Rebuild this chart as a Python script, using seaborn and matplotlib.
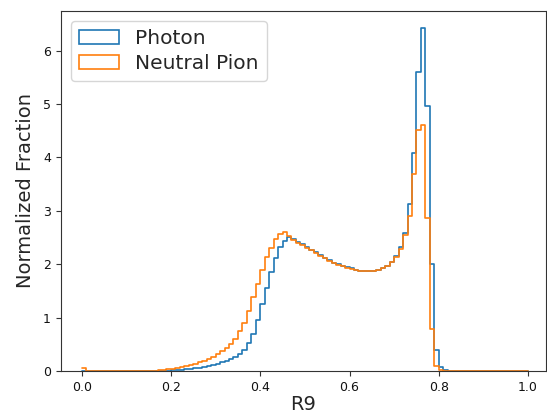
import numpy as np
import pandas as pd
import matplotlib
matplotlib.use("Agg")
import matplotlib.pyplot as plt
import seaborn as sns
from matplotlib.patches import Patch

# Histogram bin heights (normalized), bins of width 0.01 from 0 to 1
photon = [0.0] * 17 + [
    0.003, 0.005, 0.008, 0.01, 0.015, 0.02, 0.03, 0.04, 0.05, 0.06,   # 17-26
    0.075, 0.09, 0.11, 0.13, 0.16, 0.19, 0.22, 0.26, 0.32, 0.40,      # 27-36
    0.52, 0.70, 0.95, 1.25, 1.55, 1.85, 2.12, 2.32, 2.44, 2.50,       # 37-46
    2.47, 2.42, 2.37, 2.32, 2.27, 2.22, 2.17, 2.12, 2.07, 2.03,       # 47-56
    2.00, 1.97, 1.94, 1.92, 1.90, 1.88, 1.87, 1.87, 1.88, 1.90,       # 57-66
    1.93, 1.97, 2.04, 2.15, 2.32, 2.58, 3.12, 4.09, 5.60, 6.42,       # 67-76
    4.96, 2.00, 0.40, 0.08, 0.02,                                     # 77-81
] + [0.0] * 18

pion = [0.06] + [0.0] * 15 + [
    0.005, 0.01, 0.02, 0.03, 0.04, 0.05, 0.07, 0.09, 0.11, 0.13,      # 16-25
    0.16, 0.19, 0.23, 0.27, 0.32, 0.37, 0.43, 0.50, 0.60, 0.74,       # 26-35
    0.90, 1.12, 1.38, 1.63, 1.90, 2.13, 2.30, 2.47, 2.57, 2.60,       # 36-45
    2.53, 2.46, 2.40, 2.35, 2.30, 2.26, 2.21, 2.16, 2.11, 2.06,       # 46-55
    2.02, 1.99, 1.96, 1.93, 1.91, 1.89, 1.88, 1.87, 1.87, 1.88,       # 56-65
    1.90, 1.93, 1.97, 2.04, 2.13, 2.28, 2.55, 2.91, 3.69, 4.52,       # 66-75
    4.60, 2.86, 0.79, 0.10, 0.01,                                     # 76-80
] + [0.0] * 19

series_names = ["Photon", "Neutral Pion"]
x_label = "R9"
y_label = "Normalized Fraction"

edges = np.linspace(0, 1, 101)
centers = (edges[:-1] + edges[1:]) / 2

df = pd.concat([
    pd.DataFrame({"R9": centers, "w": photon, "kind": series_names[0]}),
    pd.DataFrame({"R9": centers, "w": pion, "kind": series_names[1]}),
])

sns.set_theme(style="ticks", rc={"axes.grid": False})
plt.rcParams['font.family'] = ['DejaVu Sans']

fig = plt.figure(figsize=(5.47, 4.19), dpi=100)
ax = fig.add_axes([60.7 / 547, 1 - 371 / 419, (545.5 - 60.7) / 547, (371 - 11) / 419])

colors = ["#1f77b4", "#ff7f0e"]
for name, c in zip(series_names, colors):
    sub = df[df["kind"] == name]
    sns.histplot(data=sub, x="R9", weights="w", bins=edges.tolist(), stat="count",
                 element="step", fill=False, color=c, linewidth=1.2, ax=ax)

ax.set_xlim(-0.047, 1.039)
ax.set_ylim(0, 6.42 * 1.05)
ax.set_xticks([0.0, 0.2, 0.4, 0.6, 0.8, 1.0])
ax.set_yticks([0, 1, 2, 3, 4, 5, 6])
ax.tick_params(labelsize=9, length=3.5, width=0.8, color="#333333", labelcolor="#111111")
for s in ax.spines.values():
    s.set_linewidth(0.8)
    s.set_color("#333333")
ax.set_xlabel(x_label, fontsize=14, labelpad=1)
ax.set_ylabel(y_label, fontsize=14, labelpad=6)

handles = [Patch(facecolor="none", edgecolor=c, linewidth=1.2, label=n)
           for n, c in zip(series_names, colors)]
ax.legend(handles=handles, loc="upper left", fontsize=14.5, frameon=True,
          handlelength=2.0, handleheight=0.65, borderpad=0.4, labelspacing=0.3,
          handletextpad=0.8, borderaxespad=0.5)

fig.savefig("out.png", dpi=100)
